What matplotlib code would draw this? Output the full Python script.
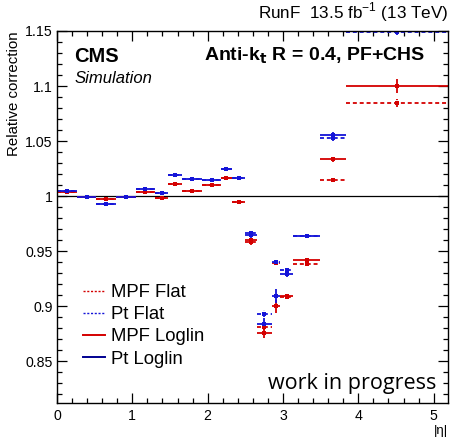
import numpy as np
import matplotlib
matplotlib.use("Agg")
import matplotlib.pyplot as plt
from matplotlib.ticker import MultipleLocator, FuncFormatter
from matplotlib.lines import Line2D

plt.rcParams['font.family'] = ['Liberation Sans', 'DejaVu Sans']

# ── data ────────────────────────────────────────────
edges = [0, 0.261, 0.522, 0.783, 1.044, 1.305, 1.479, 1.653, 1.930, 2.172,
         2.322, 2.500, 2.650, 2.853, 2.964, 3.139, 3.489, 3.839, 5.191]

mpf_flat = [1.0035, 0.999, 0.997, 0.9995, 1.0034, 0.998, 1.011, 1.0043, 1.0097, 1.016,
            0.9948, 0.958, 0.8806, 0.9395, 0.908, 0.938, 1.0145, 1.0848]
mpf_flat_err = [0.0012, 0.0012, 0.0012, 0.0012, 0.0012, 0.0015, 0.0015, 0.0012, 0.0012, 0.0015,
                0.0018, 0.002, 0.0025, 0.0015, 0.0015, 0.0015, 0.0015, 0.0035]

pt_flat = [1.0045, 0.9988, 0.993, 0.9995, 1.006, 1.0025, 1.019, 1.0157, 1.015, 1.0243,
           1.0164, 0.9665, 0.8933, 0.9397, 0.9327, 0.9636, 1.0524, 1.1495]
pt_flat_err = [0.0012, 0.0012, 0.0012, 0.0012, 0.0012, 0.0015, 0.0015, 0.0012, 0.0012, 0.0015,
               0.0018, 0.002, 0.003, 0.0015, 0.002, 0.0015, 0.002, 0.003]

mpf_loglin = [1.0035, 0.999, 0.997, 0.9995, 1.0034, 0.998, 1.011, 1.0043, 1.0097, 1.016,
              0.9948, 0.960, 0.8752, 0.900, 0.909, 0.9418, 1.0333, 1.100]
mpf_loglin_err = [0.0012, 0.0012, 0.0012, 0.0012, 0.0012, 0.0015, 0.0015, 0.0012, 0.0012, 0.0015,
                  0.0018, 0.002, 0.004, 0.006, 0.0015, 0.002, 0.002, 0.0068]

pt_loglin = [1.0045, 0.9988, 0.993, 0.9995, 1.006, 1.0025, 1.019, 1.0157, 1.015, 1.0243,
             1.0164, 0.9645, 0.884, 0.909, 0.9288, 0.9636, 1.0555, 1.17]
pt_loglin_err = [0.0012, 0.0012, 0.0012, 0.0012, 0.0012, 0.0015, 0.0015, 0.0012, 0.0012, 0.0015,
                 0.0018, 0.0025, 0.005, 0.0065, 0.002, 0.0015, 0.003, 0.005]

RED = '#d40000'
BLUE = '#1414d8'
NAVY = '#000090'

edges = np.array(edges)
centers = 0.5 * (edges[1:] + edges[:-1])
halfw = 0.5 * (edges[1:] - edges[:-1])

fig = plt.figure(figsize=(4.5, 4.4), dpi=100, facecolor='white')
ax = fig.add_axes([0.1267, 0.0841, 0.869, 0.8455])

series = [
    (mpf_flat, mpf_flat_err, RED, True),
    (pt_flat, pt_flat_err, BLUE, True),
    (mpf_loglin, mpf_loglin_err, RED, False),
    (pt_loglin, pt_loglin_err, BLUE, False),
]
for vals, errs, col, dashed in series:
    eb = ax.errorbar(centers, vals, xerr=halfw, yerr=errs, fmt='s', ms=2.2,
                     color=col, ecolor=col, elinewidth=1.3, capsize=1.7,
                     capthick=1.1, mew=0)
    if dashed:
        for lc in eb[2]:
            lc.set_linestyle((0, (2.2, 1.6)))

ax.axhline(1.0, color='black', lw=0.9, zorder=0)

ax.set_xlim(0, 5.191)
ax.set_ylim(0.812, 1.15)
ax.xaxis.set_major_locator(MultipleLocator(1))
ax.xaxis.set_minor_locator(MultipleLocator(0.2))
ax.yaxis.set_major_locator(MultipleLocator(0.05))
ax.yaxis.set_minor_locator(MultipleLocator(0.01))
ax.yaxis.set_major_formatter(FuncFormatter(lambda v, p: ('%.2f' % v).rstrip('0').rstrip('.')))
ax.tick_params(which='both', direction='in', top=True, right=True, labelsize=10.2, width=0.9)
ax.tick_params(which='major', length=7)
ax.tick_params(which='minor', length=3.5)
ax.tick_params(axis='x', pad=4)
ax.tick_params(axis='y', pad=3)
for s in ax.spines.values():
    s.set_linewidth(1.0)

ax.set_ylabel('Relative correction', fontsize=10.8, loc='top', labelpad=3)
ax.text(1.0, -0.058, '|η|', transform=ax.transAxes, ha='right', va='top', fontsize=9.5)

ax.text(0.045, 0.958, 'CMS', transform=ax.transAxes, ha='left', va='top',
        fontsize=14.5, fontweight='bold')
ax.text(0.045, 0.892, 'Simulation', transform=ax.transAxes, ha='left', va='top',
        fontsize=12, style='italic')
ax.text(0.942, 0.96, r'Anti-k$_{\mathbf{t}}$ R = 0.4, PF+CHS', transform=ax.transAxes,
        ha='right', va='top', fontsize=14, fontweight='bold')
fig.text(0.996, 0.972, r'RunF  13.5 fb$^{\mathregular{-1}}$ (13 TeV)', ha='right', va='center',
         fontsize=12.3)
ax.text(0.97, 0.025, 'work in progress', transform=ax.transAxes, ha='right', va='bottom',
        fontsize=15.5, family=['Open Sans', 'DejaVu Sans'])

handles = [
    Line2D([], [], color=RED, lw=1.0, ls=(0, (1.5, 1.2))),
    Line2D([], [], color=BLUE, lw=1.0, ls=(0, (1.5, 1.2))),
    Line2D([], [], color=RED, lw=1.4),
    Line2D([], [], color=NAVY, lw=1.4),
]
labels = ['MPF Flat', 'Pt Flat', 'MPF Loglin', 'Pt Loglin']
ax.legend(handles, labels, loc='lower left', bbox_to_anchor=(0.066, 0.095), frameon=False,
          fontsize=13.3, handlelength=1.2, handletextpad=0.3, labelspacing=0.28,
          borderaxespad=0, borderpad=0)

fig.savefig('out.png', dpi=100, facecolor='white')
